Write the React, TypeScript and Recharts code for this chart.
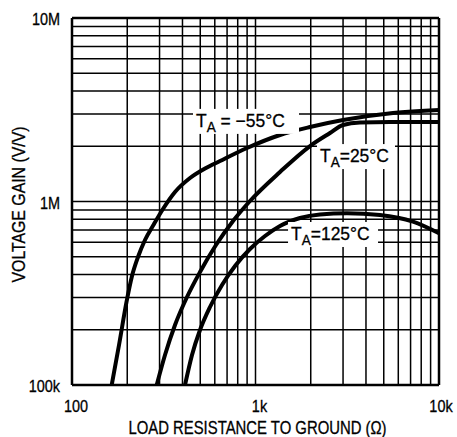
import React from 'react';
import {
  LineChart,
  Line,
  XAxis,
  YAxis,
  ReferenceLine,
  ReferenceDot,
  Label,
} from 'recharts';

// load resistance (ohms) and open-loop voltage gain (V/V) per temperature
const minus55Load = [164.6, 180.4, 198.2, 212.3, 228.9, 249.9, 279.9, 313.2, 364.2, 439.7, 530.7, 640.6, 898.9, 1360, 1982, 2999, 5615, 10000];
const minus55Gain = [1e5, 1.652e5, 2.834e5, 3.926e5, 4.984e5, 6.169e5, 7.544e5, 9.104e5, 1.127e6, 1.343e6, 1.513e6, 1.662e6, 1.957e6, 2.304e6, 2.547e6, 2.78e6, 3.036e6, 3.152e6];

const plus25Load = [289.5, 321.2, 364.2, 423.4, 498.4, 609.1, 754.4, 933.2, 1360, 1982, 2547, 2999, 3711, 5408, 10000];
const plus25Gain = [1e5, 1.457e5, 2.123e5, 3.017e5, 4.128e5, 5.794e5, 7.829e5, 1.006e6, 1.448e6, 2.006e6, 2.362e6, 2.612e6, 2.695e6, 2.712e6, 2.712e6];

const plus125Load = [412.9, 450.8, 498.4, 565, 657, 773.5, 933.2, 1127, 1360, 1748, 2246, 3152, 4770, 7216, 10000];
const plus125Gain = [1e5, 1.457e5, 1.994e5, 2.661e5, 3.507e5, 4.453e5, 5.51e5, 6.486e5, 7.354e5, 8.13e5, 8.496e5, 8.625e5, 8.439e5, 7.76e5, 6.709e5];

const xTicks = [100, 1000, 10000];
const xTickLabels = ['100', '1k', '10k'];
const yTicks = [1e5, 1e6, 1e7];
const yTickLabels = ['100k', '1M', '10M'];

// log grid: 1..9 in every decade
const gridSteps = [1, 2, 3, 4, 5, 6, 7, 8, 9];
const xGrid = [100, 1000].flatMap((d) => gridSteps.map((s) => s * d)).concat(10000);
const yGrid = [1e5, 1e6].flatMap((d) => gridSteps.map((s) => s * d)).concat(1e7);

const toPoints = (load: number[], gain: number[]) =>
  load.map((r, i) => ({ r, gain: gain[i] }));

const FONT = "'Liberation Sans', Arial, sans-serif";

type CTextProps = {
  x: number;
  y: number;
  size: number;
  squeeze?: number;
  rotate?: number;
  anchor?: 'start' | 'middle' | 'end';
  children: React.ReactNode;
};

// narrow-looking text: regular sans squeezed horizontally
function CText({ x, y, size, squeeze = 0.85, rotate, anchor = 'start', children }: CTextProps) {
  const rot = rotate ? ` rotate(${rotate})` : '';
  return (
    <text
      transform={`translate(${x} ${y})${rot} scale(${squeeze} 1)`}
      textAnchor={anchor}
      fontSize={size}
      fontFamily={FONT}
      fill="#000"
      stroke="#000"
      strokeWidth={0.3}
    >
      {children}
    </text>
  );
}

type TempLabelProps = {
  cx?: number;
  cy?: number;
  rest: string;
  boxWidth: number;
};

// "T_A = ..." caption on a white patch that hides the grid behind it
function TempLabel({ cx = 0, cy = 0, rest, boxWidth }: TempLabelProps) {
  return (
    <g>
      <rect x={cx - 3} y={cy - 18} width={boxWidth} height={25} fill="#fff" />
      <CText x={cx} y={cy} size={18} squeeze={0.97}>
        <tspan>T</tspan>
        <tspan fontSize={14} dy={5}>A</tspan>
        <tspan dy={-5}>{rest}</tspan>
      </CText>
    </g>
  );
}

const XTick = ({ x, y, payload }: any) => (
  <CText x={x + 4} y={y + 27} size={17} anchor="middle">
    {xTickLabels[xTicks.indexOf(payload.value)]}
  </CText>
);

const YTick = ({ x, y, payload }: any) => (
  <CText x={x} y={y + 7} size={17} anchor="end">
    {yTickLabels[yTicks.indexOf(payload.value)]}
  </CText>
);

const curveStyle = {
  type: 'monotone' as const,
  dataKey: 'gain',
  stroke: '#000',
  strokeWidth: 4,
  dot: false,
  isAnimationActive: false,
};

export default function App() {
  return (
    <div style={{ position: 'absolute', left: 0, top: 0, background: '#fff' }}>
      <LineChart
        width={457}
        height={437}
        margin={{ top: 18, right: 18, bottom: 0, left: 0 }}
      >
        <XAxis
          dataKey="r"
          type="number"
          scale="log"
          domain={[100, 10000]}
          ticks={xTicks}
          allowDataOverflow
          axisLine={false}
          tickLine={false}
          tickSize={0}
          tickMargin={0}
          height={52}
          tick={<XTick />}
        >
          <Label
            content={({ viewBox }: any) => (
              <CText x={viewBox.x + viewBox.width / 2 + 2} y={434} size={17.5} anchor="middle">
                LOAD RESISTANCE TO GROUND (Ω)
              </CText>
            )}
          />
        </XAxis>
        <YAxis
          type="number"
          scale="log"
          domain={[1e5, 1e7]}
          ticks={yTicks}
          allowDataOverflow
          axisLine={false}
          tickLine={false}
          tickSize={0}
          tickMargin={12}
          width={72}
          tick={<YTick />}
        >
          <Label
            content={({ viewBox }: any) => (
              <CText
                x={24.5}
                y={viewBox.y + viewBox.height / 2 + 3}
                size={18}
                squeeze={0.88}
                rotate={-90}
                anchor="middle"
              >
                VOLTAGE GAIN (V/V)
              </CText>
            )}
          />
        </YAxis>

        {xGrid.map((v) => (
          <ReferenceLine
            key={`vx-${v}`}
            x={v}
            stroke="#000"
            strokeWidth={v === 100 || v === 10000 ? 2.5 : 1.5}
          />
        ))}
        {yGrid.map((v) => (
          <ReferenceLine
            key={`hy-${v}`}
            y={v}
            stroke="#000"
            strokeWidth={v === 1e5 || v === 1e7 ? 2.5 : 1.5}
          />
        ))}

        <ReferenceDot
          x={474}
          y={2.55e6}
          r={0}
          shape={(p: any) => <TempLabel cx={p.cx} cy={p.cy} rest=" = −55°C" boxWidth={106} />}
        />
        <ReferenceDot
          x={2246}
          y={1.64e6}
          r={0}
          shape={(p: any) => <TempLabel cx={p.cx} cy={p.cy} rest="=25°C" boxWidth={78} />}
        />
        <ReferenceDot
          x={1562}
          y={6.17e5}
          r={0}
          shape={(p: any) => <TempLabel cx={p.cx} cy={p.cy} rest="=125°C" boxWidth={90} />}
        />

        <Line data={toPoints(minus55Load, minus55Gain)} {...curveStyle} />
        <Line data={toPoints(plus25Load, plus25Gain)} {...curveStyle} />
        <Line data={toPoints(plus125Load, plus125Gain)} {...curveStyle} />
      </LineChart>
    </div>
  );
}
